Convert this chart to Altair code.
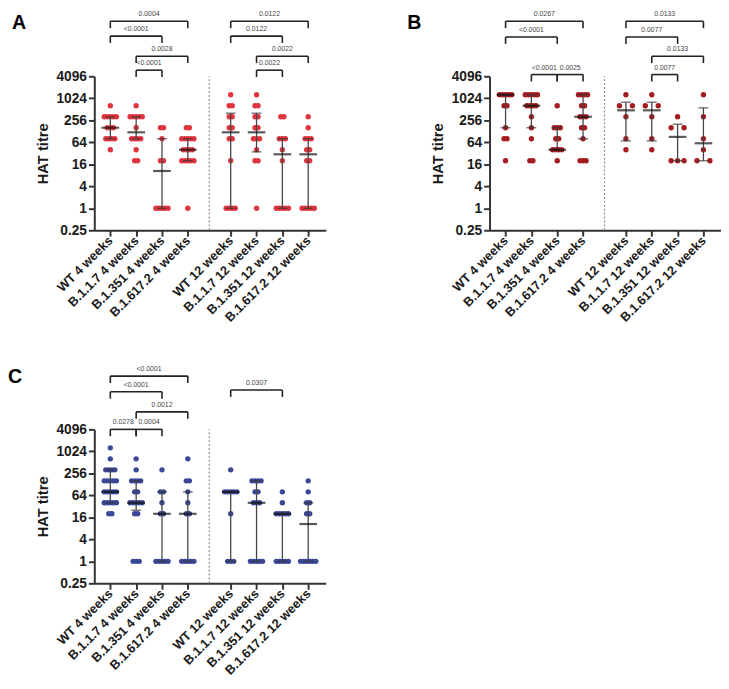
import json
import altair as alt
import pandas as pd

# ---------------- data ----------------
GROUPS = ["WT 4 weeks", "B.1.1.7 4 weeks", "B.1.351 4 weeks", "B.1.617.2 4 weeks",
          "WT 12 weeks", "B.1.1.7 12 weeks", "B.1.351 12 weeks", "B.1.617.2 12 weeks"]
TITRE_LEVELS = [1, 20, 40, 80, 160, 320, 640, 1280]
Y_TICKS = [0.25, 1, 4, 16, 64, 256, 1024, 4096]

# number of animals at each titre level (columns follow TITRE_LEVELS)
A_COUNTS = [
    [0, 0, 1, 4, 3, 5, 1, 0],
    [0, 2, 1, 4, 1, 5, 1, 0],
    [5, 2, 0, 1, 2, 0, 0, 0],
    [1, 5, 4, 5, 2, 0, 0, 0],
    [4, 1, 0, 2, 2, 2, 2, 1],
    [1, 2, 1, 3, 2, 2, 2, 1],
    [5, 1, 1, 3, 0, 2, 0, 0],
    [5, 2, 2, 3, 1, 1, 0, 0],
]
A_MEDIAN = [160, 120, 10.5, 40, 120, 120, 30, 30]
A_Q1 = [80, 80, 1, 20, 1, 35, 1, 1]
A_Q3 = [320, 320, 80, 80, 400, 400, 80, 80]
A_BR_FROM = [0, 0, 1, 1, 4, 4, 5, 5]
A_BR_TO = [3, 2, 3, 2, 7, 6, 7, 6]
A_BR_P = ["0.0004", "<0.0001", "0.0028", "<0.0001", "0.0122", "0.0122", "0.0022", "0.0022"]
A_BR_LEVEL = [63, 46, 23, 7, 63, 46, 23, 7]

B_COUNTS = [
    [0, 1, 0, 2, 1, 0, 2, 5],
    [0, 2, 0, 1, 1, 1, 4, 5],
    [0, 1, 4, 2, 3, 0, 1, 0],
    [0, 3, 0, 1, 2, 3, 2, 4],
    [0, 0, 1, 1, 0, 1, 2, 1],
    [0, 0, 1, 1, 0, 1, 2, 1],
    [0, 3, 0, 0, 2, 1, 0, 0],
    [0, 2, 1, 1, 0, 1, 0, 1],
]
B_MEDIAN = [1280, 640, 40, 320, 480, 480, 90, 60]
B_Q1 = [160, 160, 40, 80, 70, 70, 20, 20]
B_Q3 = [1280, 1280, 160, 1280, 800, 800, 200, 560]
B_BR_FROM = [0, 0, 1, 2, 4, 4, 5, 5]
B_BR_TO = [3, 2, 2, 3, 7, 6, 7, 6]
B_BR_P = ["0.0267", "<0.0001", "<0.0001", "0.0025", "0.0133", "0.0077", "0.0133", "0.0077"]
B_BR_LEVEL = [63, 45, 2, 2, 63, 45, 23, 2]

C_COUNTS = [
    [0, 2, 5, 5, 5, 4, 1, 1],
    [3, 2, 5, 2, 4, 1, 1, 0],
    [5, 2, 1, 2, 0, 1, 0, 0],
    [5, 2, 1, 1, 2, 0, 1, 0],
    [3, 1, 0, 5, 0, 1, 0, 0],
    [5, 0, 3, 2, 4, 0, 0, 0],
    [5, 5, 1, 1, 0, 0, 0, 0],
    [6, 2, 2, 1, 1, 0, 0, 0],
]
C_MEDIAN = [80, 40, 20, 20, 80, 40, 20, 10.5]
C_Q1 = [40, 25, 1, 1, 1, 1, 1, 1]
C_Q3 = [320, 160, 80, 80, 80, 160, 20, 40]
C_BR_FROM = [0, 0, 1, 0, 1, 4]
C_BR_TO = [3, 2, 3, 1, 2, 6]
C_BR_P = ["<0.0001", "<0.0001", "0.0012", "0.0278", "0.0004", "0.0307"]
C_BR_LEVEL = [61, 43, 20, 0, 0, 45]

# ---------------- layout / style ----------------
W, H = 236, 157
GAP_SHIFT = 0.66          # extra space between the 4-week and 12-week groups
XMIN, XMAX = -0.62, 8.34
PXU = W / (XMAX - XMIN)   # pixels per x unit
K = 0.89                  # bracket-height scale (px per level unit)
LEG = 7                   # bracket leg length in px
FONT = "Liberation Sans"


def xpos(i):
    return i + (GAP_SHIFT if i >= 4 else 0.0)


XVALS = [xpos(i) for i in range(len(GROUPS))]
LABEL_EXPR = (f"{json.dumps(GROUPS)}[round(datum.value > 3.5 ? "
              f"datum.value - {GAP_SHIFT} : datum.value)]")

X_SCALE = alt.Scale(domain=[XMIN, XMAX], nice=False, zero=False)
X_AXIS = alt.Axis(values=XVALS, labelExpr=LABEL_EXPR, labelAngle=-45,
                  labelAlign="right", labelBaseline="middle", labelOverlap=False,
                  labelFlush=False, labelFontSize=13, labelPadding=2, title=None,
                  grid=False, tickSize=6)
Y_SCALE = alt.Scale(type="log", base=2, domain=[0.25, 4096], nice=False)
Y_AXIS = alt.Axis(values=Y_TICKS, format=".6~g", title="HAT titre", labelFontSize=14,
                  labelOverlap=False, labelFlush=False, labelPadding=2, grid=False,
                  tickSize=6, titleFontSize=15, titlePadding=6)
BR_SCALE = alt.Scale(domain=[0, 100], range=[0, -100 * K])


def dots_frame(counts):
    rows = []
    for gi, row in enumerate(counts):
        sparse = sum(row) <= 8
        for lv, n in zip(TITRE_LEVELS, row):
            if sparse:
                step = 6.6
                if n % 2:
                    slots = [k - (n - 1) / 2 for k in range(n)]
                else:
                    slots = [s * sg for s in range(1, n // 2 + 1) for sg in (-1, 1)]
            else:
                step = 3.1
                slots = [k - (n - 1) / 2 for k in range(n)]
            for s in slots:
                rows.append({"group": GROUPS[gi], "x": xpos(gi) + s * step / PXU,
                             "titre": lv})
    return pd.DataFrame(rows)


def panel(letter, letter_dx, counts, med, q1, q3, br_from, br_to, br_p, br_level, color):
    dots = dots_frame(counts)
    stats = pd.DataFrame({"group": GROUPS, "x": XVALS, "med": med, "q1": q1, "q3": q3})
    br = pd.DataFrame({
        "x1": [xpos(i) for i in br_from],
        "x2": [xpos(i) for i in br_to],
        "level": br_level,
        "p": br_p,
    })
    br["mid"] = (br["x1"] + br["x2"]) / 2
    br["lo"] = br["level"] - LEG / K
    legs = pd.concat([
        br[["x1", "level", "lo"]].rename(columns={"x1": "xe"}),
        br[["x2", "level", "lo"]].rename(columns={"x2": "xe"}),
    ])
    divider = pd.DataFrame({"x": [(xpos(3) + xpos(4)) / 2], "lo": [0.25], "hi": [4096]})

    def X(field):
        return alt.X(field, scale=X_SCALE, axis=X_AXIS)

    def Y(field):
        return alt.Y(field, scale=Y_SCALE, axis=Y_AXIS)

    div_layer = alt.Chart(divider).mark_rule(
        color="#8a8a8a", strokeDash=[2, 2], strokeWidth=1.2
    ).encode(x=X("x:Q"), y=Y("lo:Q"), y2="hi:Q")

    dot_layer = alt.Chart(dots).mark_circle(size=30, opacity=1, color=color).encode(
        x=X("x:Q"), y=Y("titre:Q"))

    whisk = alt.Chart(stats).mark_rule(color="#444444", strokeWidth=1.3).encode(
        x=X("x:Q"), y=Y("q1:Q"), y2="q3:Q")
    cap_lo = alt.Chart(stats).mark_tick(orient="horizontal", size=10, thickness=1.4,
                                        color="#333333").encode(x=X("x:Q"), y=Y("q1:Q"))
    cap_hi = alt.Chart(stats).mark_tick(orient="horizontal", size=10, thickness=1.4,
                                        color="#333333").encode(x=X("x:Q"), y=Y("q3:Q"))
    med_l = alt.Chart(stats).mark_tick(orient="horizontal", size=18, thickness=2.2,
                                       color="#111111").encode(x=X("x:Q"), y=Y("med:Q"))

    main = alt.layer(div_layer, dot_layer, whisk, cap_lo, cap_hi, med_l)

    BY = lambda f: alt.Y(f, scale=BR_SCALE, axis=None)
    h_rule = alt.Chart(br).mark_rule(color="#222222", strokeWidth=1.6).encode(
        x=X("x1:Q"), x2="x2:Q", y=BY("level:Q"))
    leg_rule = alt.Chart(legs).mark_rule(color="#222222", strokeWidth=1.6).encode(
        x=X("xe:Q"), y=BY("level:Q"), y2="lo:Q")
    lab = alt.Chart(br).mark_text(fontSize=7, font=FONT, color="#444444",
                                  baseline="bottom", dy=-4).encode(
        x=X("mid:Q"), y=BY("level:Q"), text="p:N")
    brackets = alt.layer(h_rule, leg_rule, lab)

    return alt.layer(main, brackets).resolve_scale(y="independent").properties(
        width=W, height=H,
        title=alt.TitleParams(letter, anchor="start", frame="group", orient="top",
                              fontSize=20, font=FONT, fontWeight="bold",
                              color="#000000", dx=letter_dx, dy=22.5, offset=0),
    )


pA = panel("A", -84, A_COUNTS, A_MEDIAN, A_Q1, A_Q3, A_BR_FROM, A_BR_TO, A_BR_P,
           A_BR_LEVEL, "#e0353f")
pB = panel("B", -84, B_COUNTS, B_MEDIAN, B_Q1, B_Q3, B_BR_FROM, B_BR_TO, B_BR_P,
           B_BR_LEVEL, "#a51c20")
pC = panel("C", -88, C_COUNTS, C_MEDIAN, C_Q1, C_Q3, C_BR_FROM, C_BR_TO, C_BR_P,
           C_BR_LEVEL, "#3b4798")

top = alt.hconcat(pA, pB, spacing=83)
chart = alt.vconcat(top, pC, spacing=41).properties(
    padding={"top": -5, "left": 0, "right": 0, "bottom": 0}
).configure_view(
    stroke=None
).configure_axis(
    domainColor="#333333", domainWidth=2, tickColor="#333333", tickWidth=2,
    labelFont=FONT, labelFontWeight="bold", labelColor="#1a1a1a",
    titleFont=FONT, titleFontWeight="bold", titleColor="#1a1a1a",
)

chart.save("out.html", embed_options={"renderer": "svg", "actions": False})
